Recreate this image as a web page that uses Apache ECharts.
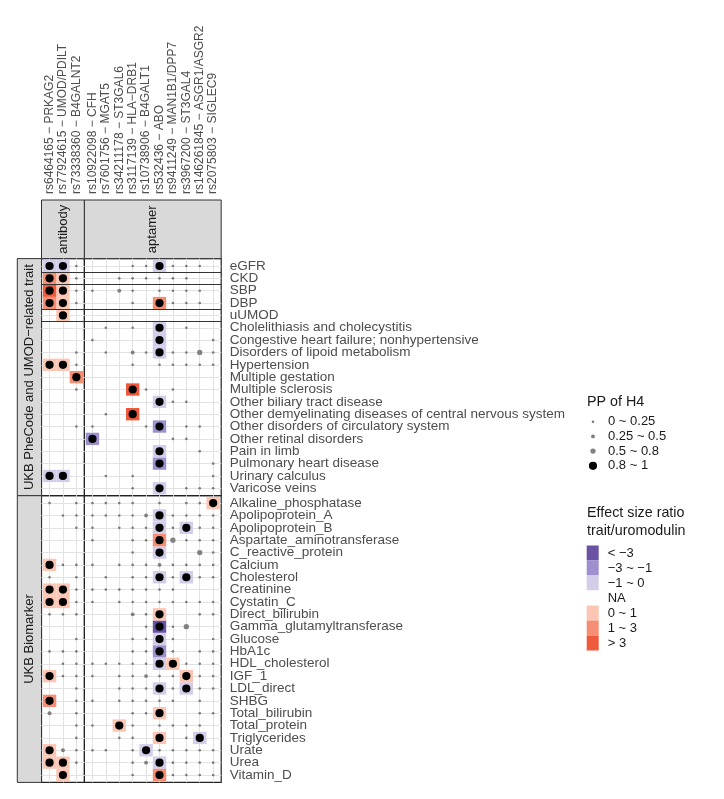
<!DOCTYPE html>
<html><head><meta charset="utf-8">
<script src="https://cdn.jsdelivr.net/npm/echarts@6/dist/echarts.min.js"></script>
<style>html,body{margin:0;padding:0;background:#fff}#c{width:724px;height:799px}</style>
</head><body><div id="c"></div>
<script>
// ---------- data ----------
const antibodyCols = ['rs6464165 − PRKAG2','rs77924615 − UMOD/PDILT','rs73338360 − B4GALNT2'];
const aptamerCols = ['rs10922098 − CFH','rs7601756 − MGAT5','rs34211178 − ST3GAL6','rs3117139 − HLA−DRB1',
  'rs10738906 − B4GALT1','rs532436 − ABO','rs9411249 − MAN1B1/DPP7','rs3967200 − ST3GAL4',
  'rs146261845 − ASGR1/ASGR2','rs2075803 − SIGLEC9'];
const pheBlocks = [['eGFR'],['CKD'],['SBP','DBP'],['uUMOD'],
  ['Cholelithiasis and cholecystitis','Congestive heart failure; nonhypertensive','Disorders of lipoid metabolism',
   'Hypertension','Multiple gestation','Multiple sclerosis','Other biliary tract disease',
   'Other demyelinating diseases of central nervous system','Other disorders of circulatory system',
   'Other retinal disorders','Pain in limb','Pulmonary heart disease','Urinary calculus','Varicose veins']];
const pheRows = pheBlocks.flat();
const bioRows = ['Alkaline_phosphatase','Apolipoprotein_A','Apolipoprotein_B','Aspartate_aminotransferase',
  'C_reactive_protein','Calcium','Cholesterol','Creatinine','Cystatin_C','Direct_bilirubin',
  'Gamma_glutamyltransferase','Glucose','HbA1c','HDL_cholesterol','IGF_1','LDL_direct','SHBG',
  'Total_bilirubin','Total_protein','Triglycerides','Urate','Urea','Vitamin_D'];
const ppClasses = ['0 ~ 0.25','0.25 ~ 0.5','0.5 ~ 0.8','0.8 ~ 1'];
const effClasses = ['< −3','−3 ~ −1','−1 ~ 0','NA','0 ~ 1','1 ~ 3','> 3'];
// PP of H4 class per cell (0 = not tested, 1..4 = class); columns: 3 antibody then 10 aptamer
const phePP = [
  [4,4,1, 0,0,0,1,1,4,1,1,1,0],
  [4,4,1, 0,0,1,1,1,1,1,1,0,0],
  [4,4,1, 1,0,2,1,0,1,1,1,1,0],
  [4,4,1, 0,0,0,1,0,4,1,1,1,0],
  [0,4,0, 0,0,0,0,0,0,0,0,0,0],
  [0,0,0, 0,1,0,1,0,4,0,1,0,0],
  [0,0,0, 1,0,0,0,0,4,0,0,0,1],
  [0,0,1, 0,1,0,2,1,4,1,1,3,1],
  [4,4,1, 0,0,0,1,0,1,1,1,1,1],
  [0,0,4, 0,0,0,0,0,0,0,0,0,0],
  [0,0,1, 0,0,0,4,1,0,1,0,0,0],
  [0,0,0, 0,0,0,0,0,4,1,1,0,0],
  [0,0,0, 0,1,0,4,0,0,0,0,0,0],
  [0,0,1, 1,0,0,0,1,4,0,1,1,0],
  [0,0,0, 4,0,0,0,0,0,1,1,0,0],
  [0,0,0, 0,0,0,0,0,4,0,0,1,0],
  [0,0,0, 0,0,0,0,0,4,0,0,0,1],
  [4,4,0, 0,1,0,1,0,0,0,0,0,1],
  [0,0,0, 0,0,0,1,0,4,0,1,1,1]
];
// effect size ratio class (0 = none, -3 <-3, -2 -3~-1, -1 -1~0, 1 0~1, 2 1~3, 3 >3)
const pheEff = [
  [-1,-1,0, 0,0,0,0,0,-1,0,0,0,0],
  [2,1,0, 0,0,0,0,0,0,0,0,0,0],
  [3,1,0, 0,0,0,0,0,0,0,0,0,0],
  [2,1,0, 0,0,0,0,0,2,0,0,0,0],
  [0,1,0, 0,0,0,0,0,0,0,0,0,0],
  [0,0,0, 0,0,0,0,0,-1,0,0,0,0],
  [0,0,0, 0,0,0,0,0,-1,0,0,0,0],
  [0,0,0, 0,0,0,0,0,-1,0,0,0,0],
  [1,1,0, 0,0,0,0,0,0,0,0,0,0],
  [0,0,2, 0,0,0,0,0,0,0,0,0,0],
  [0,0,0, 0,0,0,3,0,0,0,0,0,0],
  [0,0,0, 0,0,0,0,0,-1,0,0,0,0],
  [0,0,0, 0,0,0,3,0,0,0,0,0,0],
  [0,0,0, 0,0,0,0,0,-2,0,0,0,0],
  [0,0,0, -2,0,0,0,0,0,0,0,0,0],
  [0,0,0, 0,0,0,0,0,-1,0,0,0,0],
  [0,0,0, 0,0,0,0,0,-2,0,0,0,0],
  [-1,-1,0, 0,0,0,0,0,0,0,0,0,0],
  [0,0,0, 0,0,0,0,0,-1,0,0,0,0]
];
const bioPP = [
  [1,0,1, 1,1,1,1,0,1,0,1,1,4],
  [0,1,1, 1,1,1,1,2,4,1,1,1,1],
  [0,0,1, 1,0,1,1,1,4,1,4,1,1],
  [0,0,0, 1,0,0,1,1,4,3,1,1,1],
  [0,0,0, 0,0,0,1,0,4,0,0,3,1],
  [4,1,1, 1,0,1,1,1,2,1,1,1,1],
  [1,0,1, 0,1,0,1,1,4,1,4,1,1],
  [4,4,1, 1,1,1,1,1,1,1,0,0,0],
  [4,4,1, 1,0,1,1,1,1,1,1,1,1],
  [1,1,1, 0,0,0,2,1,4,0,0,1,1],
  [0,0,0, 0,0,0,0,1,4,1,3,0,0],
  [0,0,1, 0,0,0,1,1,4,1,0,0,1],
  [1,1,1, 0,0,0,1,1,4,1,0,1,1],
  [0,1,1, 1,1,1,1,1,4,4,1,1,1],
  [4,1,1, 1,0,1,1,2,1,1,4,1,1],
  [0,0,1, 0,0,1,1,1,4,1,4,1,1],
  [4,0,1, 1,0,1,1,1,1,1,0,1,0],
  [2,0,1, 0,0,0,1,1,4,0,0,1,1],
  [0,0,1, 1,0,4,1,0,1,1,1,1,0],
  [0,0,1, 0,0,1,1,0,4,0,1,4,0],
  [4,2,1, 1,1,0,1,4,1,1,1,1,1],
  [4,4,1, 0,0,0,1,2,4,1,1,1,1],
  [0,4,0, 0,0,0,1,0,4,1,1,1,1]
];
const bioEff = [
  [0,0,0, 0,0,0,0,0,0,0,0,0,1],
  [0,0,0, 0,0,0,0,0,-1,0,0,0,0],
  [0,0,0, 0,0,0,0,0,-1,0,-1,0,0],
  [0,0,0, 0,0,0,0,0,2,0,0,0,0],
  [0,0,0, 0,0,0,0,0,-1,0,0,0,0],
  [1,0,0, 0,0,0,0,0,0,0,0,0,0],
  [0,0,0, 0,0,0,0,0,-1,0,-1,0,0],
  [1,1,0, 0,0,0,0,0,0,0,0,0,0],
  [1,1,0, 0,0,0,0,0,0,0,0,0,0],
  [0,0,0, 0,0,0,0,0,1,0,0,0,0],
  [0,0,0, 0,0,0,0,0,-3,0,0,0,0],
  [0,0,0, 0,0,0,0,0,-1,0,0,0,0],
  [0,0,0, 0,0,0,0,0,-2,0,0,0,0],
  [0,0,0, 0,0,0,0,0,-1,1,0,0,0],
  [1,0,0, 0,0,0,0,0,0,0,1,0,0],
  [0,0,0, 0,0,0,0,0,-1,0,-1,0,0],
  [2,0,0, 0,0,0,0,0,0,0,0,0,0],
  [0,0,0, 0,0,0,0,0,1,0,0,0,0],
  [0,0,0, 0,0,1,0,0,0,0,0,0,0],
  [0,0,0, 0,0,0,0,0,1,0,0,-1,0],
  [1,0,0, 0,0,0,0,-1,0,0,0,0,0],
  [1,1,0, 0,0,0,0,0,-1,0,0,0,0],
  [0,1,0, 0,0,0,0,0,2,0,0,0,0]
];

// ---------- styling ----------
const FONT = 'Liberation Sans, Arial, Helvetica, sans-serif';
const effColors = ['#6A51A3','#9E8FCF','#D3CDEA','#FFFFFF','#FBC6B4','#F58E72','#EF5A3C'];
const ppSizes = [2.6, 3.9, 5.3, 8.2];
const ppColors = ['#7A7A7A','#7F7F7F','#828282','#000000'];
const gridCol = '#E2E2E2';

const colSets = [antibodyCols, aptamerCols], colOffset = [0, antibodyCols.length];
const rowSets = [pheRows, bioRows], ppSets = [phePP, bioPP], effSets = [pheEff, bioEff];
const xl = [41.5, 84.4], xw = [42.9, 136.8];
const yt = [258.6, 495.7], yh = [237.1, 286.7];
const PAD = 0.6; // discrete-scale expansion on each side

// separators between phe blocks
const pheBreaks = [];
{ let acc = 0; pheBlocks.slice(0, -1).forEach(b => { acc += b.length; pheBreaks.push(acc - 0.5); }); }

function renderTile(params, api) {
  const p = api.coord([api.value(0), api.value(1)]);
  const s = api.size([1, 1]);
  const w = Math.abs(s[0]), h = Math.abs(s[1]);
  return {type: 'rect', shape: {x: p[0] - w / 2, y: p[1] - h / 2, width: w, height: h},
          style: {fill: api.visual('color')}};
}
// label values: the category positions, framed by blank labels at both axis ends
function labelValues(n) {
  const v = [-PAD];
  for (let i = 0; i < n; i++) v.push(i);
  v.push(n - 1 + PAD);
  return v;
}
function catFormatter(cats) {
  return v => (Number.isInteger(v) && v >= 0 && v < cats.length) ? cats[v] : '';
}

const grid = [], xAxis = [], yAxis = [], series = [];
let gi = 0;
for (let r = 0; r < 2; r++) {
  for (let c = 0; c < 2; c++) {
    const cols = colSets[c], rows = rowSets[r];
    const cIdx = cols.map((_, i) => i), rIdx = rows.map((_, i) => i);
    grid.push({left: xl[c], top: yt[r], width: xw[c], height: yh[r], show: true,
               borderColor: '#222222', borderWidth: 1.2, backgroundColor: 'rgba(0,0,0,0)'});
    xAxis.push({gridIndex: gi, type: 'value', min: -PAD, max: cols.length - 1 + PAD, position: 'top',
      offset: r === 0 ? 58.6 : 0,
      axisLine: {show: false},
      axisTick: {show: false, customValues: cIdx},
      axisLabel: {show: r === 0, customValues: labelValues(cols.length), formatter: catFormatter(cols), rotate: 90,
                  showMinLabel: false, showMaxLabel: false, hideOverlap: false,
                  margin: 6, fontSize: 12, color: '#4D4D4D', fontFamily: FONT},
      splitLine: {show: true, lineStyle: {color: gridCol, width: 1}}});
    yAxis.push({gridIndex: gi, type: 'value', inverse: true, min: -PAD, max: rows.length - 1 + PAD, position: 'right',
      axisLine: {show: false},
      axisTick: {show: false, customValues: rIdx},
      axisLabel: {show: c === 1, customValues: labelValues(rows.length), formatter: catFormatter(rows),
                  showMinLabel: false, showMaxLabel: false, hideOverlap: false,
                  margin: 8.5, fontSize: 13.5, color: '#4D4D4D', fontFamily: FONT},
      splitLine: {show: true, lineStyle: {color: gridCol, width: 1}}});
    // tiles
    effClasses.forEach((name, k) => {
      const data = [];
      rows.forEach((_, i) => cols.forEach((_, j) => {
        const code = effSets[r][i][j + colOffset[c]];
        if (code !== 0 && code + 3 === k) data.push([j, i]);
      }));
      series.push({type: 'custom', name, xAxisIndex: gi, yAxisIndex: gi, data, renderItem: renderTile,
                   itemStyle: {color: effColors[k]}, z: 2, silent: true});
    });
    // points
    ppClasses.forEach((name, k) => {
      const data = [];
      rows.forEach((_, i) => cols.forEach((_, j) => {
        if (ppSets[r][i][j + colOffset[c]] === k + 1) data.push([j, i]);
      }));
      const s = {type: 'scatter', name, xAxisIndex: gi, yAxisIndex: gi, data, symbol: 'circle',
                 symbolSize: ppSizes[k], itemStyle: {color: ppColors[k], opacity: 1}, z: 4, silent: true};
      if (r === 0 && k === 0) {
        s.markLine = {silent: true, symbol: 'none', label: {show: false}, animation: false,
          lineStyle: {color: '#333333', width: 1, type: 'solid'}, emphasis: {disabled: true},
          data: pheBreaks.map(b => ({yAxis: b}))};
      }
      series.push(s);
    });
    gi++;
  }
}

// legends
const legend = [];
const ppCenters = [421.7, 436.4, 451.1, 465.8];
ppClasses.forEach((name, k) => {
  const w = ppSizes[k];
  legend.push({data: [name], orient: 'vertical', left: 593 - w / 2, top: ppCenters[k] - 7, padding: 0,
    itemWidth: w, itemHeight: w, icon: 'circle', selectedMode: false,
    textStyle: {fontSize: 13, color: '#1A1A1A', fontFamily: FONT, lineHeight: 14, padding: [0, 0, 0, 10 - w / 2]}});
});
legend.push({data: effClasses, orient: 'vertical', left: 586.7, top: 545.5, padding: 0, itemGap: 0,
  itemWidth: 12, itemHeight: 15, icon: 'rect', selectedMode: false,
  textStyle: {fontSize: 13, color: '#1A1A1A', fontFamily: FONT, lineHeight: 15, padding: [0, 0, 0, 4]}});

const stripStyle = {fill: '#D9D9D9', stroke: '#333333', lineWidth: 1};
const stripFont = '13px ' + FONT;
const graphic = [
  {type: 'rect', shape: {x: xl[0], y: 200, width: xw[0], height: 58.6}, style: stripStyle},
  {type: 'rect', shape: {x: xl[1], y: 200, width: xw[1], height: 58.6}, style: stripStyle},
  {type: 'rect', shape: {x: 17.3, y: yt[0], width: 24.2, height: yh[0]}, style: stripStyle},
  {type: 'rect', shape: {x: 17.3, y: yt[1], width: 24.2, height: yh[1]}, style: stripStyle},
  {type: 'text', x: xl[0] + xw[0] / 2, y: 229.3, rotation: Math.PI / 2,
   style: {text: 'antibody', font: stripFont, fill: '#1A1A1A', align: 'center', verticalAlign: 'middle'}},
  {type: 'text', x: xl[1] + xw[1] / 2, y: 229.3, rotation: Math.PI / 2,
   style: {text: 'aptamer', font: stripFont, fill: '#1A1A1A', align: 'center', verticalAlign: 'middle'}},
  {type: 'text', x: 29.4, y: yt[0] + yh[0] / 2, rotation: Math.PI / 2,
   style: {text: 'UKB PheCode and UMOD−related trait', font: stripFont, fill: '#1A1A1A', align: 'center', verticalAlign: 'middle'}},
  {type: 'text', x: 29.4, y: yt[1] + yh[1] / 2, rotation: Math.PI / 2,
   style: {text: 'UKB Biomarker', font: stripFont, fill: '#1A1A1A', align: 'center', verticalAlign: 'middle'}}
];

const chart = echarts.init(document.getElementById('c'), null, {renderer: 'canvas'});
chart.setOption({
  backgroundColor: '#FFFFFF',
  animation: false,
  title: [
    {text: 'PP of H4', left: 587, top: 394, padding: 0,
     textStyle: {fontSize: 14.3, fontWeight: 'normal', color: '#1A1A1A', fontFamily: FONT, lineHeight: 17}},
    {text: 'Effect size ratio\ntrait/uromodulin', left: 587, top: 504.5, padding: 0,
     textStyle: {fontSize: 14.3, fontWeight: 'normal', color: '#1A1A1A', fontFamily: FONT, lineHeight: 17.5}}
  ],
  grid, xAxis, yAxis, series, legend, graphic
});
</script>
</body></html>
